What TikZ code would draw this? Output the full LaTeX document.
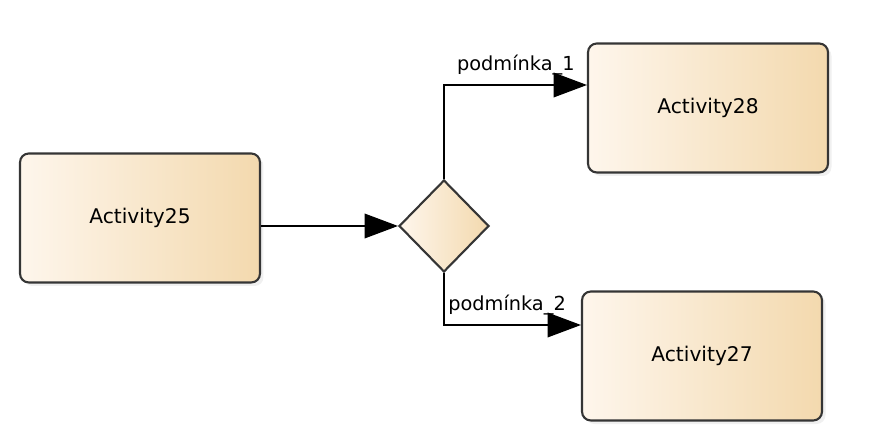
\documentclass[tikz,border=0pt]{standalone}
\usepackage{fontspec}
\setmainfont{DejaVu Sans}
\usetikzlibrary{arrows.meta,shapes.geometric,shadows}
\definecolor{actleft}{HTML}{FEF6EC}
\definecolor{actright}{HTML}{F3D9AE}
\definecolor{actborder}{HTML}{353535}
\tikzset{
  activity/.style={draw=actborder, line width=1.2pt, rounded corners=5pt,
    left color=actleft, right color=actright,
    minimum width=4.8cm, minimum height=2.58cm,
    drop shadow={opacity=0.12, shadow xshift=2pt, shadow yshift=-2pt},
    font=\fontsize{11.5}{13}\selectfont},
  decision/.style={diamond, draw=actborder, line width=1.2pt,
    left color=actleft, right color=actright,
    minimum width=1.8cm, minimum height=1.84cm, inner sep=0pt},
  flow/.style={draw=black, line width=0.9pt,
    -{Triangle[length=19pt, width=14pt]}},
  guard/.style={font=\fontsize{11}{13}\selectfont, inner sep=2pt}
}
\begin{document}
\begin{tikzpicture}[x=0.02cm, y=-0.02cm]
        \useasboundingbox (0,0) rectangle (892,438);
        \node[activity] (a25) at (140, 218) {Activity25};
        \node[decision] (d1) at (444, 226) {};
        \node[activity] (a28) at (708, 108) {Activity28};
        \node[activity] (a27) at (702, 356) {Activity27};
        \draw[flow] (a25.east |- d1.west) -- (d1.west);
        \draw[flow] (d1.north) |- ([yshift=0.46cm]a28.west)
          node[guard, pos=0.5, above right, xshift=5pt, yshift=3pt] {podmínka\_1};
        \draw[flow] (d1.south) |- ([yshift=0.62cm]a27.west)
          node[guard, pos=0.5, above right, xshift=0pt, yshift=3pt] {podmínka\_2};
\end{tikzpicture}
\end{document}
